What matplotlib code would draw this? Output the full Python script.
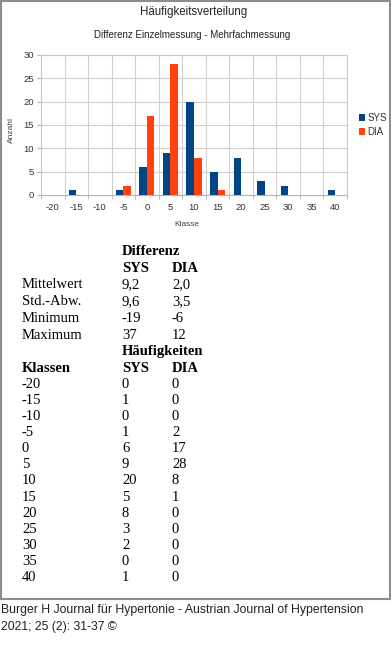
import matplotlib
matplotlib.use("Agg")
import matplotlib.pyplot as plt
import numpy as np
from matplotlib.patches import Rectangle

klassen = ["-20", "-15", "-10", "-5", "0", "5", "10", "15", "20", "25", "30", "35", "40"]
sys_counts = [0, 1, 0, 1, 6, 9, 20, 5, 8, 3, 2, 0, 1]
dia_counts = [0, 0, 0, 2, 17, 28, 8, 1, 0, 0, 0, 0, 0]

stat_names = ["Mittelwert", "Std.-Abw.", "Minimum", "Maximum"]
stat_sys = ["9,2", "9,6", "-19", "37"]
stat_dia = ["2,0", "3,5", "-6", "12"]

W, H = 391, 661
fig = plt.figure(figsize=(W / 100, H / 100), dpi=100)
fig.patch.set_facecolor("white")

def fx(x):
    return x / W

def fy(y):
    return 1 - y / H

# frame
fig.patches.append(Rectangle((fx(0.5), fy(599)), fx(389.5), (599 - 0.5) / H,
                             transform=fig.transFigure, fill=False,
                             edgecolor="#8c8c8c", linewidth=1.5))

SANS = "Liberation Sans"
SERIF = "Liberation Serif"
C_SYS = "#004586"
C_DIA = "#ff420e"

ax = fig.add_axes([fx(41), fy(195), 306 / W, 140 / H])
x = np.arange(len(klassen))
bw = 0.32
ax.bar(x - bw / 2, sys_counts, bw, color=C_SYS, label="SYS", zorder=3)
ax.bar(x + bw / 2, dia_counts, bw, color=C_DIA, label="DIA", zorder=3)
ax.set_xlim(-0.5, len(klassen) - 0.5)
ax.set_ylim(0, 30)
ax.set_yticks(np.arange(0, 31, 5))
ax.set_xticks(x)
ax.set_xticklabels(klassen, fontsize=6.8, family=SANS, color="#333333")
ax.set_xticks(np.arange(-0.5, len(klassen)), minor=True)
ax.tick_params(axis="x", which="major", length=0, pad=6)
ax.tick_params(axis="x", which="minor", length=3, color="#b3b3b3")
ax.tick_params(axis="y", length=3, color="#b3b3b3", labelsize=6.8, labelcolor="#333333", pad=2)
for lab in ax.get_yticklabels():
    lab.set_family(SANS)
ax.grid(True, which="minor", axis="x", color="#d0d0d0", linewidth=0.8, zorder=0)
ax.grid(True, which="major", axis="y", color="#d0d0d0", linewidth=0.8, zorder=0)
for s in ax.spines.values():
    s.set_color("#c8c8c8")
    s.set_linewidth(0.8)
ax.spines["bottom"].set_color("#b3b3b3")

leg = ax.legend(loc="center left", bbox_to_anchor=(1.025, 0.5), frameon=False,
                prop={"family": SANS, "size": 7}, handlelength=0.7, handleheight=0.7,
                handletextpad=0.2, labelspacing=0.4, borderaxespad=0)
for t in leg.get_texts():
    t.set_color("#333333")

fig.text(fx(194), fy(12), "Häufigkeitsverteilung", ha="center", va="center",
         family=SANS, fontsize=8.3, color="#222222")
fig.text(fx(192), fy(35), "Differenz Einzelmessung - Mehrfachmessung", ha="center",
         va="center", family=SANS, fontsize=7, color="#222222")
fig.text(fx(11), fy(130), "Anzahl", ha="center", va="center", rotation=90,
         family=SANS, fontsize=6, color="#444444")
fig.text(fx(187), fy(224), "Klasse", ha="center", va="center",
         family=SANS, fontsize=6, color="#444444")

# table
X0, X1, X2 = 22, 122, 172
FS = 10.5
row_h = 16.15

def tx(xp, yp, s, bold=False):
    fig.text(fx(xp), fy(yp), s, ha="left", va="center", family=SERIF, fontsize=FS,
             fontweight="bold" if bold else "normal", color="black")

tx(X1, 252, "Differenz", True)
tx(X1, 268, "SYS", True)
tx(X2, 268, "DIA", True)
y0 = 285
for i, (n, a, b) in enumerate(zip(stat_names, stat_sys, stat_dia)):
    yy = y0 + i * 16.7
    tx(X0, yy, n)
    tx(X1, yy, a)
    tx(X2, yy, b)
tx(X1, 352, "Häufigkeiten", True)
tx(X0, 368, "Klassen", True)
tx(X1, 368, "SYS", True)
tx(X2, 368, "DIA", True)
for i, (k, a, b) in enumerate(zip(klassen, sys_counts, dia_counts)):
    yy = 384 + i * row_h
    tx(X0, yy, k)
    tx(X1, yy, str(a))
    tx(X2, yy, str(b))

fig.text(fx(1), fy(610), "Burger H Journal für Hypertonie - Austrian Journal of Hypertension",
         ha="left", va="center", family=SANS, fontsize=8.8, color="#222222")
fig.text(fx(1), fy(627), "2021; 25 (2): 31-37 ©", ha="left", va="center",
         family=SANS, fontsize=8.8, color="#222222")

fig.savefig("out.png", dpi=100)
